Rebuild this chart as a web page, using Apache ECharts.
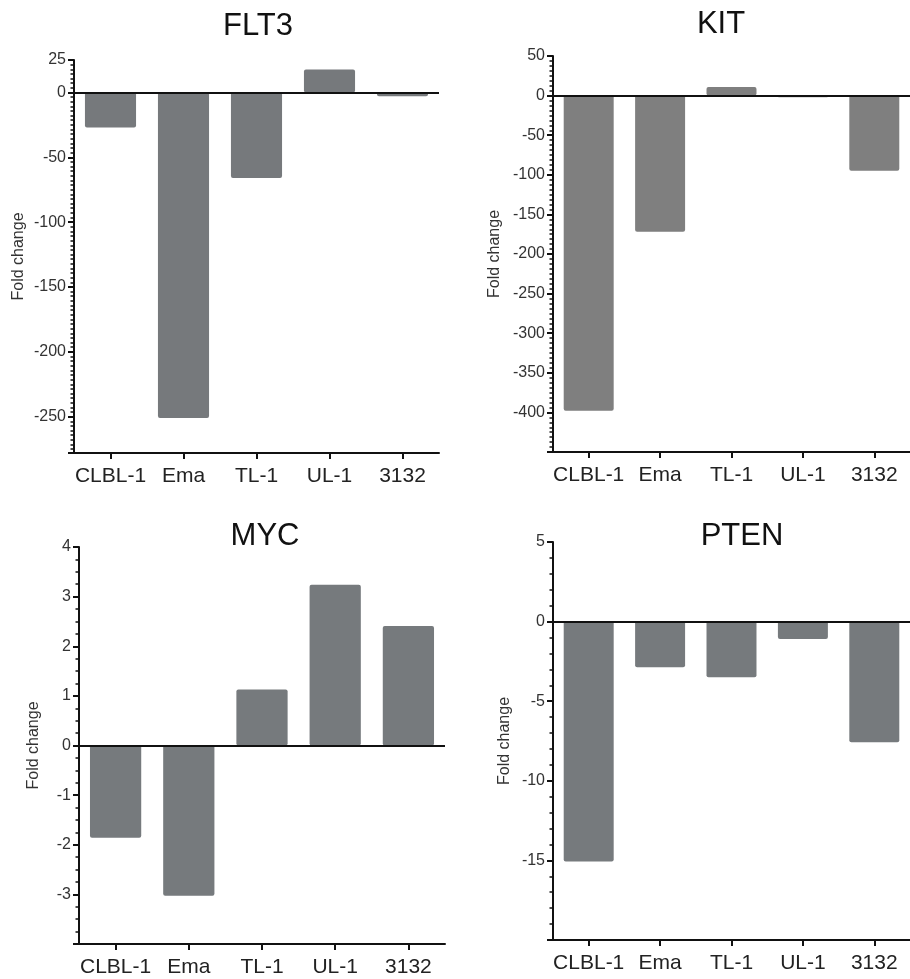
<!DOCTYPE html>
<html>
<head>
<meta charset="utf-8">
<script src="https://cdn.jsdelivr.net/npm/echarts@6/dist/echarts.min.js"></script>
<style>
  html, body { margin: 0; padding: 0; background: #fff; }
  #main { width: 910px; height: 979px; }
</style>
</head>
<body>
<div id="main"></div>
<script>
// cell lines on every panel
var categories = ['CLBL-1', 'Ema', 'TL-1', 'UL-1', '3132'];

// fold change values
var flt3Values = [-27, -251, -66, 17.7, -3];
var kitValues = [-398, -172, 11, -2, -95];
var mycValues = [-1.86, -3.03, 1.13, 3.24, 2.41];
var ptenValues = [-15.07, -2.87, -3.5, -1.09, -7.58];

// labelled ticks of each y axis
var flt3Ticks = [25, 0, -50, -100, -150, -200, -250];
var kitTicks = [50, 0, -50, -100, -150, -200, -250, -300, -350, -400];
var mycTicks = [4, 3, 2, 1, 0, -1, -2, -3];
var ptenTicks = [5, 0, -5, -10, -15];

var font = "'Liberation Sans', Arial, sans-serif";

var panels = [
  { title: 'FLT3', values: flt3Values, ticks: flt3Ticks, min: -278, max: 25, minor: 25 / 7,
    color: '#76797c', grid: { left: 74, top: 60, width: 365, height: 393 }, nameGap: 47, tx: 258, ty: 26 },
  { title: 'KIT', values: kitValues, ticks: kitTicks, min: -450, max: 50, minor: 6.25,
    color: '#7f7f7f', grid: { left: 553, top: 56, width: 365, height: 396 }, nameGap: 50, tx: 721, ty: 24 },
  { title: 'MYC', values: mycValues, ticks: mycTicks, min: -4, max: 4, minor: 0.25,
    color: '#767a7d', grid: { left: 79, top: 547, width: 366, height: 397 }, nameGap: 37, tx: 265, ty: 536 },
  { title: 'PTEN', values: ptenValues, ticks: ptenTicks, min: -20, max: 5, minor: 1,
    color: '#767a7d', grid: { left: 553, top: 542, width: 360, height: 398 }, nameGap: 40, tx: 742, ty: 536 }
];

function minorValues(p) {
  var out = [];
  var n = Math.floor((p.max - p.min) / p.minor + 1e-6);
  for (var k = 0; k <= n; k++) out.push(p.max - k * p.minor);
  return out;
}

var grids = [], xAxes = [], yAxes = [], series = [], graphics = [];

panels.forEach(function (p, i) {
  grids.push(p.grid);
  xAxes.push({
    type: 'category',
    gridIndex: i,
    data: categories,
    position: 'bottom',
    axisLine: { onZero: false, lineStyle: { color: '#111', width: 2 } },
    axisTick: { show: true, alignWithLabel: true, interval: 0, length: 6, lineStyle: { color: '#111', width: 2 } },
    axisLabel: { interval: 0, color: '#222', fontSize: 21, fontFamily: font, margin: 13 },
    splitLine: { show: false }
  });
  yAxes.push({
    type: 'value',
    gridIndex: i,
    position: 'left',
    min: p.min,
    max: p.max,
    name: 'Fold change',
    nameLocation: 'middle',
    nameGap: p.nameGap,
    nameTextStyle: { color: '#333', fontSize: 16, fontFamily: font },
    axisLine: { show: true, lineStyle: { color: '#111', width: 2 } },
    axisTick: { show: true, length: 6, customValues: p.ticks.concat([p.min]), lineStyle: { color: '#111', width: 2 } },
    axisLabel: { customValues: p.ticks, color: '#333', fontSize: 16, fontFamily: font, margin: 8 },
    splitLine: { show: false }
  });
  // second axis on the same grid only for the small ticks
  yAxes.push({
    type: 'value',
    gridIndex: i,
    position: 'left',
    min: p.min,
    max: p.max,
    axisLine: { show: false },
    axisTick: { show: true, length: 3.5, customValues: minorValues(p), lineStyle: { color: '#111', width: 1.5 } },
    axisLabel: { show: false },
    splitLine: { show: false }
  });
  series.push({
    type: 'bar',
    xAxisIndex: i,
    yAxisIndex: i * 2,
    data: p.values,
    barWidth: '70%',
    itemStyle: { color: p.color, borderRadius: 2 },
    silent: true,
    markLine: {
      silent: true,
      symbol: 'none',
      label: { show: false },
      lineStyle: { color: '#111', width: 2, type: 'solid' },
      data: [{ yAxis: 0 }]
    }
  });
  graphics.push({
    type: 'text',
    x: p.tx,
    y: p.ty,
    style: { text: p.title, fill: '#111', fontSize: 31, fontFamily: font, textAlign: 'center', textVerticalAlign: 'middle' }
  });
});

var myChart = echarts.init(document.getElementById('main'));
var option = {
  backgroundColor: '#fff',
  animation: false,
  grid: grids,
  xAxis: xAxes,
  yAxis: yAxes,
  series: series,
  graphic: graphics
};
myChart.setOption(option);
</script>
</body>
</html>
